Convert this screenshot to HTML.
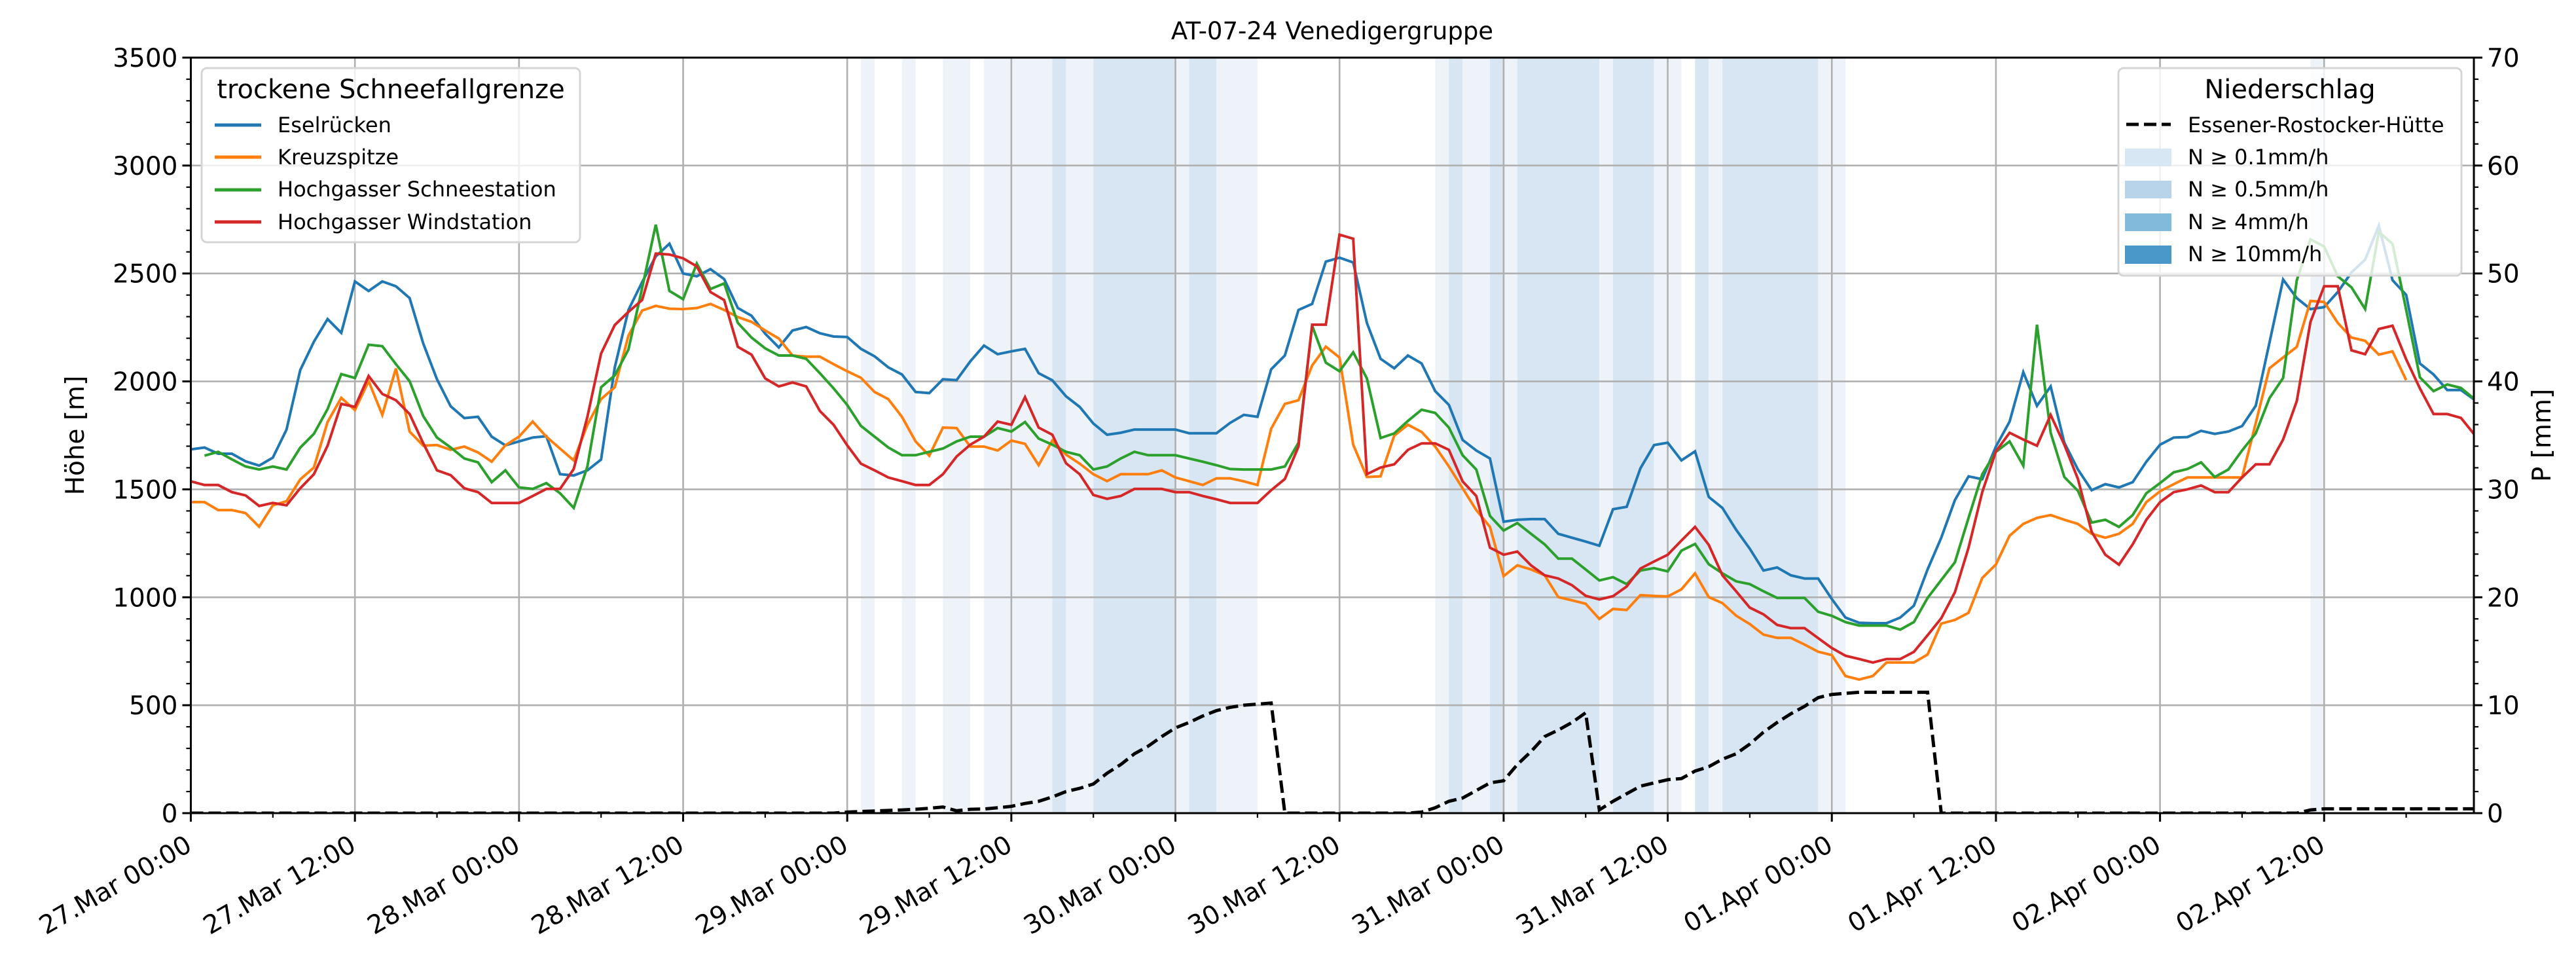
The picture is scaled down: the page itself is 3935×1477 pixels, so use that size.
<!DOCTYPE html>
<html><head><meta charset="utf-8">
<style>
html,body{margin:0;padding:0;background:#fff;}
svg{display:block;font-family:"DejaVu Sans","Liberation Sans",sans-serif;}
</style></head>
<body>
<svg id="chart" xmlns="http://www.w3.org/2000/svg" width="3935" height="1477" viewBox="0 0 3935 1477">
<rect x="0" y="0" width="3935" height="1477" fill="#fff"/>
<defs><clipPath id="plotclip"><rect x="291.5" y="88" width="3487.5" height="1154"/></clipPath></defs>
<g id="bands" clip-path="url(#plotclip)"></g>
<g id="grid"></g>
<g id="series" clip-path="url(#plotclip)"></g>
<g id="precip" clip-path="url(#plotclip)"></g>
<g id="axes"></g>
<text x="2035" y="60" font-size="37" text-anchor="middle">AT-07-24 Venedigergruppe</text>
<text x="0" y="0" font-size="39" text-anchor="middle" transform="translate(128,665) rotate(-90)">Höhe [m]</text>
<text x="0" y="0" font-size="39" text-anchor="middle" transform="translate(3896,665) rotate(-90)">P [mm]</text>
<g id="legend1">
<rect x="308" y="104" width="578" height="266" rx="8" fill="rgba(255,255,255,0.8)" stroke="#d5d5d5" stroke-width="3"/>
<text x="597" y="150" font-size="40" text-anchor="middle">trockene Schneefallgrenze</text>
<g><line x1="328" y1="191" x2="399" y2="191" stroke="#1f77b4" stroke-width="5"/><text x="424" y="202" font-size="32">Eselrücken</text></g>
<g><line x1="328" y1="240" x2="399" y2="240" stroke="#ff7f0e" stroke-width="5"/><text x="424" y="251" font-size="32">Kreuzspitze</text></g>
<g><line x1="328" y1="290" x2="399" y2="290" stroke="#2ca02c" stroke-width="5"/><text x="424" y="300" font-size="32">Hochgasser Schneestation</text></g>
<g><line x1="328" y1="339" x2="399" y2="339" stroke="#d62728" stroke-width="5"/><text x="424" y="350" font-size="32">Hochgasser Windstation</text></g>
</g>
<g id="legend2">
<rect x="3236" y="104" width="524" height="317" rx="8" fill="rgba(255,255,255,0.8)" stroke="#d5d5d5" stroke-width="3"/>
<text x="3498" y="150" font-size="40" text-anchor="middle">Niederschlag</text>
<g><line x1="3248" y1="190" x2="3316" y2="190" stroke="#000" stroke-width="5" stroke-dasharray="19 8"/><text x="3342" y="202" font-size="32">Essener-Rostocker-Hütte</text></g>
<g><rect x="3246" y="227" width="71" height="27" fill="#d8e7f4"/><text x="3342" y="251" font-size="32">N ≥ 0.1mm/h</text></g>
<g><rect x="3246" y="276" width="71" height="27" fill="#b7d4ea"/><text x="3342" y="300" font-size="32">N ≥ 0.5mm/h</text></g>
<g><rect x="3246" y="326" width="71" height="27" fill="#82badb"/><text x="3342" y="350" font-size="32">N ≥ 4mm/h</text></g>
<g><rect x="3246" y="375" width="71" height="28" fill="#4a98c9"/><text x="3342" y="399" font-size="32">N ≥ 10mm/h</text></g>
</g>
</svg>
<script>
// hourly values starting 27.Mar 00:00
const esel = [1685,1694,1665,1665,1630,1610,1647,1777,2052,2184,2289,2225,2463,2419,2463,2441,2386,2175,2010,1885,1830,1836,1744,1704,1722,1740,1746,1570,1564,
1588,1638,2065,2331,2460,2579,2638,2500,2487,2520,2474,2340,2304,2221,2157,2236,2252,2223,2208,2206,2151,2116,2065,2032,1951,1946,2010,2006,
2093,2166,2126,2139,2151,2038,2005,1931,1882,1805,1753,1762,1777,1777,1777,1777,1760,1760,1760,1808,1845,1836,2056,2120,2331,2359,2555,2573,
2551,2271,2105,2061,2120,2083,1955,1891,1729,1680,1643,1350,1359,1362,1362,1294,1276,1258,1239,1408,1419,1597,1705,1716,1634,1676,1465,1414,1313,
1225,1124,1138,1102,1087,1087,992,906,882,880,880,906,961,1129,1276,1450,1560,1547,1698,1814,2043,1887,1977,1716,1592,1496,1524,1509,
1533,1628,1707,1740,1742,1771,1757,1768,1793,1887,2179,2472,2386,2335,2344,2414,2505,2564,2722,2469,2401,2083,2032,1960,1960,1915];
const kreuz = [1441,1441,1404,1404,1390,1327,1426,1445,1546,1601,1812,1924,1867,2001,1845,2060,1768,1702,1705,1683,1698,1671,1628,1704,1744,1814,1744,1689,1634,
1799,1918,1973,2212,2328,2350,2337,2335,2340,2359,2331,2298,2276,2236,2199,2120,2115,2115,2080,2047,2017,1951,1918,1836,1722,1656,1786,1784,
1698,1698,1680,1726,1711,1612,1726,1661,1619,1570,1538,1570,1570,1570,1588,1555,1538,1520,1551,1551,1537,1520,1781,1896,1913,2074,2161,2111,
1707,1557,1560,1749,1799,1766,1698,1606,1505,1404,1326,1098,1148,1129,1102,1001,986,970,900,946,941,1010,1006,1004,1037,1111,1001,973,915,
876,827,812,812,781,748,732,635,619,635,698,698,698,735,878,895,928,1089,1152,1285,1340,1368,1381,1359,1340,1294,1276,1294,
1340,1441,1491,1524,1555,1555,1555,1555,1555,1807,2061,2111,2160,2373,2368,2271,2203,2188,2124,2139,2006,null,null,null,null,null];
const hgSchnee = [null,1656,1674,1639,1606,1592,1606,1592,1693,1757,1872,2034,2016,2170,2163,2080,2001,1839,1740,1694,1643,1625,1533,1588,1509,1502,1529,1482,1414,
1606,1973,2028,2148,2432,2726,2419,2381,2546,2428,2454,2271,2203,2153,2120,2120,2105,2038,1968,1891,1794,1744,1694,1658,1658,1674,1689,1722,
1744,1744,1784,1768,1812,1735,1707,1674,1658,1592,1606,1643,1674,1658,1658,1658,1643,1628,1612,1594,1592,1592,1592,1606,1716,2258,2087,2047,
2135,2014,1738,1759,1817,1869,1854,1786,1658,1592,1377,1309,1344,1294,1245,1179,1179,1129,1078,1093,1061,1124,1135,1120,1216,1247,1153,1111,1074,
1061,1028,997,997,997,933,914,885,869,869,869,850,885,997,1080,1162,1368,1570,1674,1722,1610,2263,1762,1557,1493,1346,1359,1326,
1381,1482,1529,1579,1594,1625,1557,1592,1680,1759,1922,2016,2469,2658,2625,2487,2436,2335,2693,2637,2331,2019,1955,1986,1970,1918];
const hgWind = [1537,1520,1520,1487,1472,1423,1437,1426,1505,1570,1702,1896,1882,2025,1942,1913,1849,1713,1588,1566,1505,1487,1437,1437,1437,1469,1502,1502,1594,
1836,2129,2261,2322,2377,2592,2588,2570,2533,2414,2377,2160,2124,2014,1977,1995,1977,1863,1799,1704,1619,1588,1555,1538,1520,1520,1570,1652,
1707,1744,1814,1799,1927,1786,1753,1621,1570,1474,1456,1469,1502,1502,1502,1487,1487,1469,1454,1437,1437,1437,1496,1548,1698,2263,2263,2680,
2661,1570,1601,1616,1683,1713,1713,1683,1537,1469,1230,1197,1212,1148,1102,1087,1056,1007,990,1005,1050,1133,1166,1197,1263,1326,1243,1102,1028,
952,921,872,857,857,811,765,729,714,698,714,714,747,824,903,1023,1230,1487,1676,1762,1731,1702,1845,1707,1548,1304,1197,1151,
1245,1359,1441,1487,1500,1518,1487,1487,1555,1616,1616,1731,1909,2276,2441,2441,2144,2126,2243,2258,2102,1968,1849,1849,1831,1753];
const precipMm = [0,0,0,0,0,0,0,0,0,0,0,0,0,0,0,0,0,0,0,0,0,0,0,0,0,0,0,0,0,0,0,0,0,0,0,0,0,0,0,0,0,0,0,0,0,0,0,0,
0.1,0.15,0.2,0.25,0.3,0.36,0.45,0.57,0.22,0.36,0.38,0.5,0.63,0.9,1.1,1.5,2.0,2.3,2.7,3.7,4.5,5.5,
6.2,7.1,7.9,8.4,9.0,9.5,9.8,10.0,10.1,10.2,
0,0,0,0,0,0,0,0,0,0,0.1,0.5,1.1,1.4,2.1,2.8,3.0,4.5,5.7,7.1,7.7,8.4,9.3,
0.3,1.1,1.8,2.5,2.8,3.1,3.2,3.9,4.3,5.0,5.5,6.4,7.5,8.4,9.2,9.9,10.7,11.0,11.1,11.2,11.2,11.2,11.2,11.2,11.2,
0,0,0,0,0,0,0,0,0,0,0,0,0,0,0,0,0,0,0,0,0,0,0,0,0,0,0,0.3,0.4,0.4,0.4,0.4,0.4,0.4,0.4,0.4,0.4,0.4,0.4,0.4];
// precipitation intensity bands (hour start, hour end, level 1 = N>=0.1, 2 = N>=0.5)
const bandStart = [49,52,55,58,63,64,66,72,73,75,91,92,93,95,96,97,103,104,107,110,111,112,119,155];
const bandEnd   = [50,53,57,63,64,66,72,73,75,78,92,93,95,96,97,103,104,107,109,111,112,119,121,156];
const bandLevel = [1,1,1,1,2,1,2,1,2,1,1,2,1,2,1,2,1,2,1,2,1,2,1,1];
const xTickLabels = ["27.Mar 00:00","27.Mar 12:00","28.Mar 00:00","28.Mar 12:00","29.Mar 00:00","29.Mar 12:00","30.Mar 00:00","30.Mar 12:00","31.Mar 00:00","31.Mar 12:00","01.Apr 00:00","01.Apr 12:00","02.Apr 00:00","02.Apr 12:00"];
const yTicks = [0,500,1000,1500,2000,2500,3000,3500];
const y2Ticks = [0,10,20,30,40,50,60,70];

const NS = "http://www.w3.org/2000/svg";
const L = 291.5, R = 3779, T = 88, B = 1242, HMAX = 166.95;
const X = h => L + h * (R - L) / HMAX;
const Y = v => B - v * (B - T) / 3500;
const P = v => B - v * (B - T) / 70;
function mk(tag, attrs, parent) {
  const e = document.createElementNS(NS, tag);
  for (const k in attrs) e.setAttribute(k, attrs[k]);
  parent.appendChild(e);
  return e;
}
const bandsG = document.getElementById('bands');
const bandColors = {1: '#eef3fa', 2: '#d7e6f2', 3: '#9cc6e2', 4: '#5fa2cf'};
for (let i = 0; i < bandStart.length; i++) {
  const r = mk('rect', {x: X(bandStart[i]), y: T, width: X(bandEnd[i]) - X(bandStart[i]), height: B - T, fill: bandColors[bandLevel[i]]}, bandsG);
  
  
}
const gridG = document.getElementById('grid');
for (let i = 0; i < xTickLabels.length; i++) {
  const x = X(i * 12);
  const g = mk('line', {x1: x, y1: T, x2: x, y2: B, stroke: '#b0b0b0', 'stroke-width': 2.6}, gridG);
  
  
}
for (const v of yTicks) {
  const g = mk('line', {x1: L, y1: Y(v), x2: R, y2: Y(v), stroke: '#b0b0b0', 'stroke-width': 2.6}, gridG);
  
  
}
const seriesG = document.getElementById('series');
const seriesList = [[esel, '#1f77b4', 'line-eselruecken'], [kreuz, '#ff7f0e', 'line-kreuzspitze'], [hgSchnee, '#2ca02c', 'line-hochgasser-schneestation'], [hgWind, '#d62728', 'line-hochgasser-windstation']];
for (const [arr, col, name] of seriesList) {
  let d = '', pen = false;
  arr.forEach((v, i) => {
    if (v === null) { pen = false; return; }
    d += (pen ? 'L' : 'M') + X(i).toFixed(1) + ' ' + Y(v).toFixed(1);
    pen = true;
  });
  const p = mk('path', {d: d, fill: 'none', stroke: col, 'stroke-width': 4, 'stroke-linejoin': 'miter'}, seriesG);
  
  
}
const precipG = document.getElementById('precip');
let pd = '';
precipMm.forEach((v, i) => { pd += (i ? 'L' : 'M') + X(i).toFixed(1) + ' ' + P(v).toFixed(1); });
const pp = mk('path', {d: pd, fill: 'none', stroke: '#000', 'stroke-width': 5, 'stroke-dasharray': '19 8'}, precipG);



const axesG = document.getElementById('axes');
const frame = mk('rect', {x: L, y: T, width: R - L, height: B - T, fill: 'none', stroke: '#000', 'stroke-width': 3}, axesG);


for (let v = 0; v <= 3500; v += 100) {
  const major = v % 500 === 0;
  const t = mk('line', {x1: L - (major ? 13 : 7), y1: Y(v), x2: L, y2: Y(v), stroke: '#000', 'stroke-width': major ? 3 : 2.2}, axesG);
  
  
}
for (const v of yTicks) {
  const t = mk('text', {x: L - 20, y: Y(v) + 14, 'font-size': 39, 'text-anchor': 'end'}, axesG);
  t.textContent = v;
  
  
}
for (let v = 0; v <= 70; v += 2) {
  const major = v % 10 === 0;
  const t = mk('line', {x1: R, y1: P(v), x2: R + (major ? 13 : 7), y2: P(v), stroke: '#000', 'stroke-width': major ? 3 : 2.2}, axesG);
  
  
}
for (const v of y2Ticks) {
  const t = mk('text', {x: R + 20, y: P(v) + 14, 'font-size': 39, 'text-anchor': 'start'}, axesG);
  t.textContent = v;
  
  
}
for (let h = 0; h <= HMAX; h += 6) {
  const major = h % 12 === 0;
  const t = mk('line', {x1: X(h), y1: B, x2: X(h), y2: B + (major ? 13 : 7), stroke: '#000', 'stroke-width': major ? 3 : 2.2}, axesG);
  
  
}
xTickLabels.forEach((lab, i) => {
  const x = X(i * 12) + 4, y = 1298;
  const t = mk('text', {x: 0, y: 0, 'font-size': 39, 'text-anchor': 'end', transform: 'translate(' + x + ',' + y + ') rotate(-30)'}, axesG);
  t.textContent = lab;
  
  
});
</script>
</body></html>
